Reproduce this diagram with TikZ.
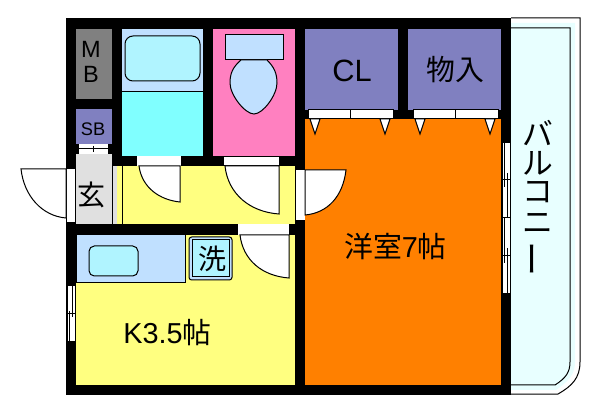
\documentclass[tikz,border=0pt]{standalone}
\usepackage{fontspec}
\setmainfont{Liberation Sans}
\newfontfamily\jp{Noto Sans CJK JP}
\usetikzlibrary{positioning}

\definecolor{wallgray}{HTML}{808080}
\definecolor{closetblue}{HTML}{8080C0}
\definecolor{paleblue}{HTML}{C0E0FF}
\definecolor{bathcyan}{HTML}{80FFFF}
\definecolor{tubcyan}{HTML}{B0F4FF}
\definecolor{toiletpink}{HTML}{FF80C0}
\definecolor{roomorange}{HTML}{FF8000}
\definecolor{floorgreen}{HTML}{FFFF80}
\definecolor{entrygray}{HTML}{E0E0E0}
\definecolor{balconycyan}{HTML}{E8FFFF}

\tikzset{
  wall/.style={fill=black,draw=none},
  line/.style={draw=black,line width=0.75pt},
  doorleaf/.style={fill=white,draw=black,line width=0.75pt},
  label/.style={inner sep=0pt,font=\fontsize{21}{21}\selectfont},
  jplabel/.style={inner sep=0pt,font=\jp\fontsize{21}{21}\selectfont}
}

\begin{document}
\begin{tikzpicture}[x=0.75pt,y=-0.75pt]
\useasboundingbox (0,0) rectangle (600,413);

% balcony
\fill[white] (0,0) rectangle (600,413);
\fill[balconycyan] (511,23) -- (575,23) -- (575,362) .. controls (575,374) and (569,381) .. (556,390) -- (511,390) -- cycle;
\draw[line] (511,18) -- (580,18) -- (580,362) .. controls (580,378) and (572,386) .. (558,394) -- (511,394);
\draw[line] (511,28) -- (570,28) -- (570,362) .. controls (570,372) and (566,378) .. (555,385) -- (511,385);

% walls
\fill[wall] (66,18) rectangle (511,395);

% rooms
\fill[wallgray] (76,29) rectangle (112,99);
\fill[closetblue] (76,109) rectangle (112,144);
\fill[paleblue] (122,29) rectangle (203,92);
\fill[bathcyan] (122,92) rectangle (203,156);
\draw[line] (122,92) -- (203,92);
\draw[line,fill=tubcyan,rounded corners=6pt] (125,36) rectangle (200,81);
\fill[toiletpink] (213,29) rectangle (295,156);
\draw[line,fill=paleblue] (225,35) rectangle (283,60);
\draw[line,fill=paleblue] (241,60) .. controls (233,67) and (230,73) .. (230,83) .. controls (230,95) and (245,114) .. (254,114) .. controls (263,114) and (277,95) .. (277,83) .. controls (277,73) and (274,67) .. (267,60) -- cycle;
\fill[closetblue] (305,29) rectangle (398,110);
\fill[closetblue] (408,29) rectangle (501,110);
\fill[roomorange] (305,119) rectangle (501,385);
\fill[entrygray] (76,154) rectangle (112,224);
\fill[entrygray] (113,166) rectangle (117,224);
\fill[floorgreen] (117,166) rectangle (295,224);
\draw[line] (112,154) -- (112,224);
\draw[line] (122,166) -- (122,224);
\fill[floorgreen] (76,235) rectangle (295,385);
\draw[line,fill=paleblue] (76,235) rectangle (185,283);
\draw[line,fill=tubcyan,rounded corners=4pt] (89,246) rectangle (138,276);
\draw[line,fill=paleblue,rounded corners=2pt] (189,237) rectangle (232,280);
\draw[line,fill=tubcyan] (192,240) rectangle (229,277);

% closet doors
\foreach \xa/\xb/\xm in {308/393/350,413/498/455}{
  \draw[line,fill=white] (\xa,110) rectangle (\xb,119);
  \draw[line] (\xm,110) -- (\xm,119);
}
\foreach \xt in {315,385,420,490}{
  \draw[line,fill=white] (\xt-5,119) -- (\xt+5,119) -- (\xt,134) -- cycle;
}

% doors
\fill[white] (137,156) rectangle (181,166);
\draw[doorleaf] (180,166) -- (180,202) .. controls (160,200) and (142,188) .. (139,166) -- cycle;
\fill[white] (224,157) rectangle (279,165);
\draw[doorleaf] (279,166) -- (279,214) .. controls (250,212) and (228,194) .. (225,166) -- cycle;
\fill[white] (296,170) rectangle (305,220);
\draw[doorleaf] (305,170) -- (346,170) .. controls (343,196) and (328,213) .. (305,215) -- cycle;
\draw[line] (296,170) -- (305,170);
\fill[white] (238,224) rectangle (289,235);
\draw[doorleaf] (289,235) -- (289,278) .. controls (262,276) and (243,260) .. (240,235) -- cycle;
\fill[white] (67,169) rectangle (75,222);
\draw[doorleaf] (66,169) -- (21,169) .. controls (24,196) and (42,216) .. (66,218) -- cycle;
\draw[line] (66,169) -- (76,169);

% windows
\fill[white] (79,144) rectangle (108,154);
\draw[line] (79,149) -- (108,149) (93,146) -- (93,152);
\fill[white] (502,143) rectangle (511,293);
\draw[line] (502,143) -- (502,293) (510,143) -- (510,293) (502,218) -- (510,218);
\draw[line] (504,143) -- (504,187) (507,173) -- (507,218) (502,180) -- (510,180);
\draw[line] (504,218) -- (504,263) (507,248) -- (507,293) (502,256) -- (510,256);
\fill[white] (67,286) rectangle (76,341);
\draw[line] (67,286) -- (67,341) (75,286) -- (75,341);
\draw[line] (72,286) -- (72,317) (69,311) -- (69,341) (67,314) -- (75,314);

% texts
\node[label,scale=0.84] (mlabel) at (91,49) {M};
\node[label,scale=0.84] (blabel) at (91,74) {B};
\node[label,scale=0.65] (sblabel) at (93,129) {SB};
\node[label,scale=1.1] (cllabel) at (352,71) {CL};
\node[jplabel,scale=1.03] (stlabel) at (455,70) {物入};
\node[jplabel] (genlabel) at (91,195) {玄};
\node[jplabel] (senlabel) at (212,259) {洗};
\node[label,scale=1.03] (roomlabel) at (395.5,247) {{\jp 洋室}7{\jp 帖}};
\node[label,scale=1.03] (kitlabel) at (167.5,333) {K3.5{\jp 帖}};
\node[jplabel,scale=1.1] (ba) at (538,133) {バ};
\node[jplabel,scale=1.1] (ru) at (538,163) {ル};
\node[jplabel,scale=1.1] (ko) at (538,192) {コ};
\node[jplabel,scale=1.1] (ni) at (538,223) {ニ};
\node[jplabel,scale=1.25,rotate=90] (bar) at (538,259) {ー};
\end{tikzpicture}
\end{document}
